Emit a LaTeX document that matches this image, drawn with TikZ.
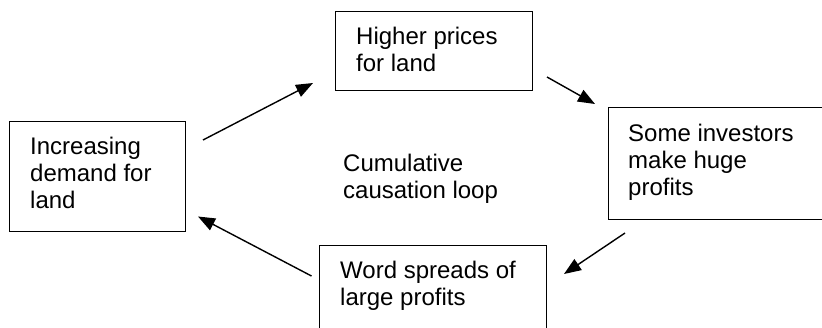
\documentclass[tikz,border=0pt]{standalone}
\usepackage{fontspec}
\setmainfont{Liberation Sans}
\usetikzlibrary{arrows.meta}
\tikzset{
  box/.style={draw=black, line width=1.4pt, rectangle, inner sep=0pt, anchor=north west},
  txt/.style={anchor=north west, inner sep=0pt, align=left, font=\fontsize{24}{27}\selectfont},
  arr/.style={line width=1.4pt, -{Triangle[length=17pt,width=13pt]}}
}
\begin{document}
\begin{tikzpicture}[x=1pt,y=-1pt]
\clip (0,0) rectangle (822,327);
\fill[white] (0,0) rectangle (822,327);
% boxes
\node[box, minimum width=176pt, minimum height=110pt] (A) at (9,120.5) {};
\node[box, minimum width=197pt, minimum height=79.5pt] (B) at (335,10.5) {};
\node[box, minimum width=240pt, minimum height=112pt] (C) at (607.5,106.5) {};
\node[box, minimum width=226.5pt, minimum height=120pt] (D) at (319,244.5) {};
% texts
\node[txt] (At) at (30,135.1) {\strut Increasing\\demand for\\land};
\node[txt] (Bt) at (356,25.1) {\strut Higher prices\\for land};
\node[txt] (Ct) at (628,122.1) {\strut Some investors\\make huge\\profits};
\node[txt] (Dt) at (340,259.1) {\strut Word spreads of\\large profits};
\node[txt] (L) at (343,152.1) {\strut Cumulative\\causation loop};
% arrow ends
\coordinate (ab1) at (203,140);
\coordinate (ab2) at (313,83);
\coordinate (bc1) at (547,77);
\coordinate (bc2) at (595,104);
\coordinate (cd1) at (625,233);
\coordinate (cd2) at (564,274);
\coordinate (da1) at (311.5,276);
\coordinate (da2) at (198,216.5);
\draw[arr] (ab1) -- (ab2);
\draw[arr] (bc1) -- (bc2);
\draw[arr] (cd1) -- (cd2);
\draw[arr] (da1) -- (da2);
\end{tikzpicture}
\end{document}
